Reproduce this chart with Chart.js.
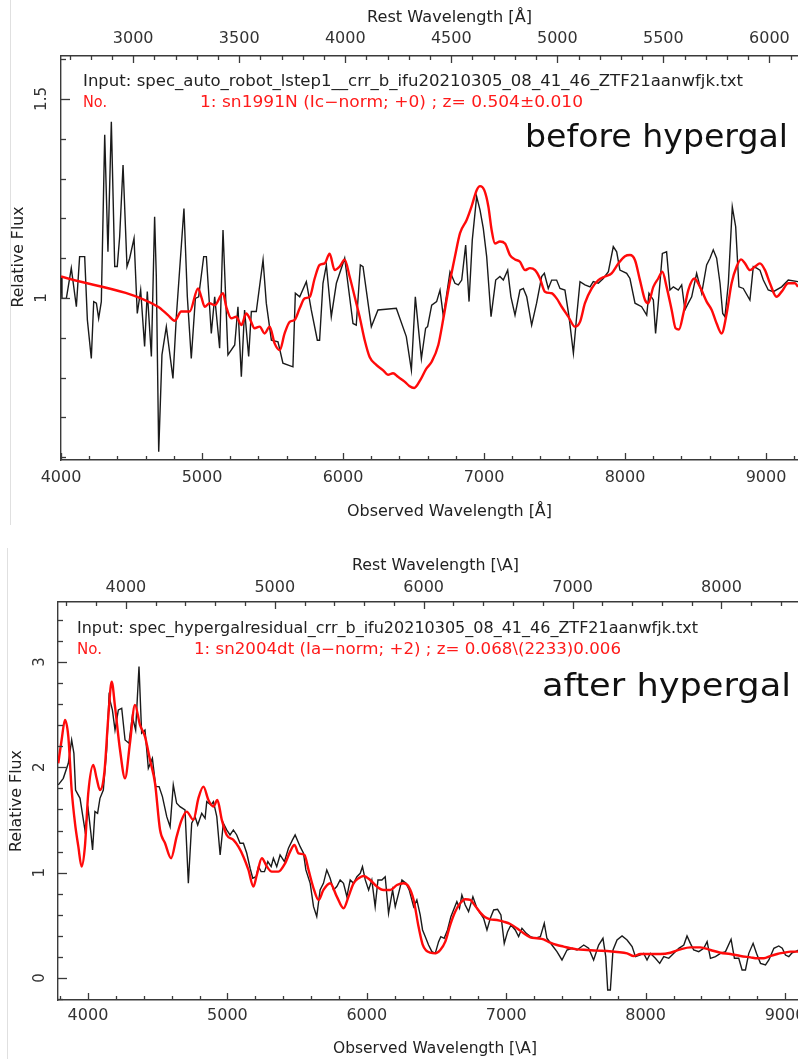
<!DOCTYPE html>
<html><head><meta charset="utf-8">
<script src="https://cdn.jsdelivr.net/npm/chart.js@4/dist/chart.umd.min.js"></script>
<style>
html,body{margin:0;padding:0;background:#fff;overflow:hidden;}
#c1{position:absolute;left:0;top:0;}
#c2{position:absolute;left:0;top:530px;}
</style></head><body>
<canvas id="c1" width="798" height="530"></canvas>
<canvas id="c2" width="798" height="529"></canvas>
<script>
// ---------------- DATA ----------------
// Top panel: before hypergal (observed spectrum, black)
const TOP_OBS_WAVE = [4000,4007,4038,4073,4109,4132,4168,4187,4215,4232,4251,4267,4286,4310,4333,4357,4381,4399,4416,4440,4468,4487,4518,4541,4565,4593,4612,4641,4664,4676,4693,4716,4747,4794,4818,4872,4896,4924,4953,4976,5012,5031,5066,5090,5125,5149,5184,5232,5255,5279,5302,5331,5350,5385,5433,5456,5492,5539,5574,5645,5662,5693,5740,5775,5818,5834,5858,5882,5917,5953,6012,6071,6094,6123,6142,6201,6248,6378,6449,6485,6513,6556,6586,6600,6629,6664,6688,6712,6759,6794,6818,6842,6870,6894,6917,6948,6972,6995,7019,7050,7083,7113,7137,7168,7191,7220,7255,7279,7303,7338,7373,7409,7428,7456,7480,7515,7539,7574,7603,7634,7657,7681,7716,7752,7775,7811,7846,7882,7917,7941,7964,8012,8035,8071,8118,8154,8170,8201,8217,8236,8265,8295,8319,8343,8378,8402,8425,8449,8473,8508,8544,8579,8603,8626,8650,8674,8693,8709,8733,8761,8785,8808,8839,8886,8910,8934,8957,8981,9016,9052,9111,9158,9227];
const TOP_OBS_FLUX = [1.054,0.999,0.999,1.075,0.978,1.104,1.104,0.945,0.848,0.991,0.987,0.949,0.991,1.410,1.116,1.443,1.079,1.079,1.154,1.334,1.079,1.100,1.150,0.961,1.020,0.878,1.016,0.853,1.204,1.054,0.614,0.857,0.928,0.798,0.953,1.225,1.003,0.848,0.999,1.003,1.104,1.104,0.911,1.003,0.874,1.171,0.857,0.882,0.978,0.802,0.970,0.853,0.966,0.966,1.096,0.987,0.894,0.890,0.836,0.827,1.012,1.003,1.041,0.970,0.894,0.894,1.037,1.083,0.953,1.037,1.100,0.936,0.932,1.083,1.079,0.928,0.970,0.974,0.903,0.819,1.003,0.848,0.924,0.928,0.982,0.991,1.020,0.953,1.066,1.037,1.033,1.045,1.133,0.991,1.146,1.255,1.221,1.175,1.104,0.953,1.045,1.054,1.045,1.070,1.003,0.957,1.020,1.024,1.003,0.932,0.987,1.054,1.062,1.024,1.045,1.045,1.024,1.020,0.953,0.861,0.953,1.041,1.033,1.028,1.041,1.037,1.049,1.066,1.129,1.116,1.070,1.062,1.049,0.987,0.978,0.957,1.012,0.995,0.911,0.987,1.112,1.116,1.020,1.028,1.020,1.033,0.970,0.987,1.003,1.062,1.012,1.083,1.100,1.121,1.100,1.037,0.961,0.953,1.037,1.229,1.179,1.028,1.024,0.995,1.079,1.075,1.070,1.045,1.020,1.016,1.028,1.045,1.041];
// Top panel: template sn1991N (red)
const TOP_TPL_WAVE = [4000,4688,4759,4806,4853,4912,4972,4995,5019,5054,5090,5149,5172,5208,5243,5279,5314,5338,5373,5409,5444,5480,5515,5551,5586,5622,5657,5693,5728,5764,5799,5834,5870,5905,5941,5976,6012,6047,6083,6118,6154,6189,6236,6283,6319,6355,6390,6437,6470,6505,6550,6590,6629,6676,6712,6747,6794,6830,6877,6912,6948,6972,7002,7031,7054,7078,7113,7149,7184,7220,7255,7291,7326,7362,7397,7432,7480,7515,7551,7598,7645,7681,7716,7764,7811,7858,7905,7953,8000,8035,8071,8106,8142,8165,8201,8236,8265,8295,8331,8359,8383,8414,8449,8492,8532,8579,8615,8650,8685,8721,8756,8792,8823,8851,8886,8922,8957,8993,9028,9075,9111,9158,9206,9227];
const TOP_TPL_FLUX = [1.054,0.978,0.957,0.943,0.966,0.966,1.024,1.003,0.978,0.987,0.982,1.012,0.978,0.949,0.953,0.932,0.961,0.949,0.924,0.928,0.911,0.928,0.886,0.869,0.911,0.940,0.945,0.974,0.999,1.003,1.049,1.083,1.087,1.111,1.070,1.079,1.096,1.054,1.003,0.953,0.894,0.852,0.832,0.819,0.807,0.811,0.802,0.790,0.779,0.774,0.795,0.822,0.840,0.882,0.949,1.020,1.104,1.163,1.196,1.230,1.271,1.281,1.271,1.230,1.171,1.137,1.142,1.137,1.108,1.097,1.091,1.070,1.075,1.070,1.049,1.016,1.012,0.999,0.978,0.953,0.928,0.940,0.987,1.024,1.045,1.054,1.062,1.087,1.105,1.108,1.095,1.045,0.995,0.987,1.028,1.049,1.066,1.028,0.970,0.924,0.921,0.961,1.020,1.049,1.028,0.991,0.970,0.936,0.911,0.961,1.037,1.079,1.097,1.087,1.070,1.079,1.087,1.070,1.037,1.003,1.016,1.037,1.037,1.028];

// Bottom panel: after hypergal (observed spectrum, black)
const BOT_OBS_WAVE = [3787,3823,3859,3883,3899,3911,3943,3978,4002,4021,4033,4050,4069,4086,4110,4134,4151,4175,4194,4218,4242,4266,4294,4318,4342,4366,4385,4409,4433,4462,4486,4510,4534,4565,4589,4612,4636,4660,4696,4720,4744,4768,4787,4816,4840,4852,4883,4900,4924,4948,4971,4995,5019,5043,5067,5091,5115,5139,5163,5182,5206,5223,5242,5266,5290,5314,5330,5354,5378,5409,5438,5467,5486,5522,5546,5563,5594,5618,5641,5665,5689,5713,5737,5761,5785,5809,5833,5857,5881,5905,5929,5953,5969,5989,6013,6036,6060,6080,6108,6132,6156,6185,6204,6228,6252,6281,6304,6336,6359,6383,6400,6419,6443,6467,6491,6515,6531,6555,6579,6603,6622,6646,6665,6682,6706,6730,6761,6790,6814,6838,6862,6886,6910,6938,6962,6986,7010,7034,7065,7089,7113,7144,7173,7209,7245,7273,7292,7328,7364,7400,7436,7472,7508,7556,7591,7627,7663,7694,7714,7728,7747,7766,7795,7831,7867,7903,7927,7958,7986,8010,8034,8070,8101,8130,8166,8202,8238,8274,8297,8321,8345,8381,8417,8441,8465,8501,8537,8573,8613,8637,8668,8692,8716,8740,8771,8795,8824,8860,8884,8920,8955,8980,9003,9027,9051,9075,9097];
const BOT_OBS_FLUX = [1.833,1.896,2.039,2.260,2.134,1.785,1.706,1.406,1.596,1.374,1.216,1.580,1.564,1.706,1.785,2.165,2.672,2.545,2.355,2.545,2.561,2.260,2.229,2.482,2.355,2.957,2.324,2.355,1.991,2.086,1.817,1.817,1.722,1.532,1.437,1.833,1.659,1.627,1.596,0.899,1.469,1.532,1.453,1.564,1.516,1.675,1.643,1.675,1.532,1.168,1.469,1.406,1.358,1.406,1.358,1.279,1.279,1.184,1.042,0.947,0.962,1.057,1.010,1.010,1.105,1.057,1.137,1.057,1.168,1.105,1.232,1.311,1.358,1.247,1.184,1.026,0.899,0.677,0.583,0.836,0.899,1.026,0.947,0.836,0.868,0.931,0.899,0.773,0.931,0.899,0.962,0.994,1.057,0.931,0.836,0.931,0.677,0.931,0.931,0.962,0.614,0.836,0.677,0.804,0.931,0.899,0.836,0.677,0.741,0.600,0.456,0.393,0.313,0.250,0.234,0.345,0.393,0.377,0.456,0.582,0.646,0.725,0.662,0.788,0.693,0.630,0.772,0.662,0.614,0.567,0.456,0.567,0.646,0.652,0.598,0.329,0.440,0.503,0.456,0.393,0.472,0.424,0.393,0.377,0.393,0.519,0.377,0.313,0.250,0.171,0.266,0.282,0.266,0.313,0.282,0.171,0.313,0.377,0.203,-0.114,-0.114,0.266,0.361,0.399,0.361,0.298,0.203,0.218,0.234,0.171,0.234,0.187,0.139,0.203,0.187,0.234,0.282,0.313,0.399,0.329,0.266,0.250,0.282,0.345,0.187,0.203,0.234,0.250,0.367,0.187,0.187,0.076,0.076,0.234,0.329,0.234,0.139,0.124,0.171,0.282,0.304,0.282,0.218,0.203,0.240,0.250,0.266];
// Bottom panel: template sn2004dt (red)
const BOT_TPL_WAVE = [3787,3811,3835,3859,3883,3907,3931,3954,3978,4002,4038,4062,4086,4117,4146,4170,4194,4230,4266,4301,4337,4373,4409,4445,4481,4517,4553,4596,4636,4672,4708,4756,4792,4828,4864,4900,4928,4960,4995,5043,5079,5115,5151,5187,5211,5247,5283,5318,5366,5414,5450,5481,5510,5553,5582,5618,5654,5689,5737,5785,5833,5869,5905,5941,5976,6024,6072,6120,6168,6216,6264,6300,6336,6371,6400,6425,6455,6491,6527,6563,6598,6634,6670,6706,6742,6778,6814,6850,6886,6933,6981,7029,7077,7125,7173,7221,7268,7316,7364,7412,7460,7508,7580,7651,7723,7795,7867,7915,7962,8034,8106,8178,8250,8321,8393,8465,8537,8608,8680,8752,8800,8848,8896,8944,8991,9039,9097];
const BOT_TPL_FLUX = [2.039,2.260,2.450,2.292,1.785,1.469,1.247,1.058,1.247,1.754,2.023,1.896,1.785,1.944,2.482,2.814,2.577,2.165,1.896,2.229,2.593,2.403,2.292,2.070,1.849,1.406,1.279,1.137,1.342,1.501,1.580,1.501,1.706,1.817,1.690,1.627,1.690,1.501,1.358,1.311,1.247,1.152,1.026,0.868,0.978,1.137,1.058,1.010,1.010,1.089,1.200,1.263,1.184,1.168,1.026,0.852,0.741,0.836,0.899,0.773,0.662,0.773,0.899,0.947,0.969,0.931,0.868,0.836,0.836,0.883,0.899,0.868,0.741,0.488,0.320,0.262,0.241,0.234,0.266,0.345,0.503,0.630,0.709,0.747,0.741,0.684,0.621,0.576,0.557,0.551,0.535,0.513,0.472,0.424,0.386,0.377,0.367,0.335,0.313,0.298,0.282,0.272,0.266,0.260,0.256,0.247,0.234,0.209,0.228,0.228,0.228,0.240,0.272,0.291,0.291,0.266,0.240,0.228,0.209,0.196,0.187,0.187,0.209,0.228,0.240,0.250,0.250];

// Tick labels
const TOP_X_TICKS = [4000,5000,6000,7000,8000,9000];
const TOP_REST_TICKS = [3000,3500,4000,4500,5000,5500,6000];
const TOP_Y_TICKS = [1,1.5];
const BOT_X_TICKS = [4000,5000,6000,7000,8000,9000];
const BOT_REST_TICKS = [4000,5000,6000,7000,8000];
const BOT_Y_TICKS = [0,1,2,3];
const TOP_Z = 0.504;
const BOT_Z = 0.068;

// Texts
const TOP_INPUT = 'Input: spec_auto_robot_lstep1__crr_b_ifu20210305_08_41_46_ZTF21aanwfjk.txt';
const TOP_MATCH = '1: sn1991N (Ic\u2212norm; +0) ; z= 0.504\u00b10.010';
const BOT_INPUT = 'Input: spec_hypergalresidual_crr_b_ifu20210305_08_41_46_ZTF21aanwfjk.txt';
const BOT_MATCH = '1: sn2004dt (Ia\u2212norm; +2) ; z= 0.068\\(2233)0.006';

// ---------------- DRAWING ----------------
const FONT = '"DejaVu Sans", sans-serif';
function drawText(ctx, t) {
  ctx.save();
  ctx.font = (t.size || 15) + 'px ' + FONT;
  ctx.fillStyle = t.color || '#222';
  ctx.translate(t.x, t.y);
  if (t.rot) ctx.rotate(-Math.PI / 2);
  if (t.w) { const m = ctx.measureText(t.s).width; ctx.scale(t.w / m, 1); }
  ctx.textAlign = t.rot ? 'center' : 'left';
  ctx.textBaseline = t.rot ? 'middle' : 'alphabetic';
  ctx.fillText(t.s, 0, 0);
  ctx.restore();
}

const decor = {
  id: 'decor',
  afterDraw(chart, _args, o) {
    const ctx = chart.ctx, A = chart.chartArea;
    const sx = chart.scales.x, sx2 = chart.scales.x2, sy = chart.scales.y;
    ctx.save();
    ctx.strokeStyle = '#e0e0e0'; ctx.lineWidth = 1;
    ctx.beginPath(); ctx.moveTo(o.frameX, o.frameY0); ctx.lineTo(o.frameX, o.frameY1); ctx.stroke();
    ctx.strokeStyle = '#3a3a3a'; ctx.lineWidth = 1.3;
    const seg = (x0, y0, x1, y1) => { ctx.beginPath(); ctx.moveTo(x0, y0); ctx.lineTo(x1, y1); ctx.stroke(); };
    const isMajor = (v, arr) => arr.some(t => Math.abs(t - v) < 1e-6);
    for (let i = Math.ceil(sx.min / o.obsMinor); i * o.obsMinor <= sx.max; i++) {
      const v = i * o.obsMinor, px = Math.round(sx.getPixelForValue(v)) + 0.5;
      seg(px, A.bottom, px, A.bottom - (isMajor(v, o.xTicks) ? 7 : 4));
    }
    for (let i = Math.ceil(sx2.min / o.restMinor); i * o.restMinor <= sx2.max; i++) {
      const v = i * o.restMinor, px = Math.round(sx2.getPixelForValue(v)) + 0.5;
      seg(px, A.top, px, A.top + (isMajor(v, o.restTicks) ? 7 : 4));
    }
    for (let i = Math.ceil(sy.min / o.yMinor - 1e-9); i * o.yMinor <= sy.max + 1e-9; i++) {
      const v = i * o.yMinor, py = Math.round(sy.getPixelForValue(v)) + 0.5;
      seg(A.left, py, A.left + (isMajor(v, o.yTicks) ? 9 : 5), py);
    }
    o.yTicks.forEach(t => drawText(ctx, {s: String(t), x: o.yLabelX, y: sy.getPixelForValue(t), size: 15, color: '#333', rot: true}));
    o.texts.forEach(t => drawText(ctx, t));
    ctx.restore();
  }
};

function makePanel(id, p) {
  const tickFont = {family: FONT, size: 16, lineHeight: 1.2};
  const pts = (w, f) => w.map((x, i) => ({x: x, y: f[i]}));
  return new Chart(document.getElementById(id), {
    type: 'line',
    data: {
      datasets: [
        {data: pts(p.tplW, p.tplF), borderColor: '#ff0a0a', borderWidth: 2.4, pointRadius: 0, cubicInterpolationMode: 'monotone', fill: false},
        {data: pts(p.obsW, p.obsF), borderColor: '#1a1a1a', borderWidth: 1.4, pointRadius: 0, tension: 0, fill: false}
      ]
    },
    options: {
      responsive: false, animation: false, devicePixelRatio: 1,
      layout: {padding: 0},
      plugins: {legend: {display: false}, tooltip: {enabled: false}, decor: p.decor},
      events: [],
      scales: {
        x: {
          type: 'linear', position: 'bottom', min: p.xMin, max: p.xMax,
          afterBuildTicks: s => { s.ticks = p.xTicks.map(v => ({value: v})); },
          afterFit: s => { s.height = p.botH; s.paddingLeft = 0; s.paddingRight = 0; },
          grid: {display: false, drawTicks: false},
          border: {display: true, color: '#3a3a3a', width: 1.4},
          ticks: {padding: p.botPad, font: tickFont, color: '#333', maxRotation: 0, minRotation: 0, autoSkip: false, callback: v => String(v)}
        },
        x2: {
          type: 'linear', position: 'top', min: p.xMin / (1 + p.z), max: p.xMax / (1 + p.z),
          afterBuildTicks: s => { s.ticks = p.restTicks.map(v => ({value: v})); },
          afterFit: s => { s.height = p.topH; s.paddingLeft = 0; s.paddingRight = 0; },
          grid: {display: false, drawTicks: false},
          border: {display: true, color: '#3a3a3a', width: 1.4},
          ticks: {padding: p.topPad, font: tickFont, color: '#333', maxRotation: 0, minRotation: 0, autoSkip: false, callback: v => String(v)}
        },
        y: {
          type: 'linear', position: 'left', min: p.yMin, max: p.yMax,
          afterFit: s => { s.width = p.yW; s.paddingTop = 0; s.paddingBottom = 0; },
          grid: {display: false, drawTicks: false},
          border: {display: true, color: '#3a3a3a', width: 1.4},
          ticks: {display: false}
        }
      }
    },
    plugins: [decor]
  });
}

makePanel('c1', {
  obsW: TOP_OBS_WAVE, obsF: TOP_OBS_FLUX, tplW: TOP_TPL_WAVE, tplF: TOP_TPL_FLUX,
  xMin: 4000, xMax: 9227, yMin: 0.593, yMax: 1.608, z: TOP_Z,
  xTicks: TOP_X_TICKS, restTicks: TOP_REST_TICKS,
  yW: 61, topH: 56, botH: 70, topPad: 8, botPad: 8,
  decor: {
    obsMinor: 200, restMinor: 100, yMinor: 0.1,
    xTicks: TOP_X_TICKS, restTicks: TOP_REST_TICKS, yTicks: TOP_Y_TICKS, yLabelX: 42,
    frameX: 10.5, frameY0: 0, frameY1: 525,
    texts: [
      {s: 'Rest Wavelength [\u00c5]', x: 367, y: 22, w: 165},
      {s: 'Observed Wavelength [\u00c5]', x: 347, y: 516, w: 205},
      {s: 'Relative Flux', x: 19, y: 257, w: 101, rot: true},
      {s: TOP_INPUT, x: 83, y: 86, w: 660},
      {s: 'No.', x: 83, y: 107, w: 24, color: '#ff1a1a'},
      {s: TOP_MATCH, x: 200, y: 107, w: 383, color: '#ff1a1a'},
      {s: 'before hypergal', x: 525, y: 147, w: 263, size: 32, color: '#111'}
    ]
  }
});

makePanel('c2', {
  obsW: BOT_OBS_WAVE, obsF: BOT_OBS_FLUX, tplW: BOT_TPL_WAVE, tplF: BOT_TPL_FLUX,
  xMin: 3785, xMax: 9093, yMin: -0.209, yMax: 3.570, z: BOT_Z,
  xTicks: BOT_X_TICKS, restTicks: BOT_REST_TICKS,
  yW: 58, topH: 72, botH: 59, topPad: 5, botPad: 6,
  decor: {
    obsMinor: 200, restMinor: 200, yMinor: 0.2,
    xTicks: BOT_X_TICKS, restTicks: BOT_REST_TICKS, yTicks: BOT_Y_TICKS, yLabelX: 40,
    frameX: 7.5, frameY0: 18, frameY1: 529,
    texts: [
      {s: 'Rest Wavelength [\\A]', x: 352, y: 40, w: 167},
      {s: 'Observed Wavelength [\\A]', x: 333, y: 523, w: 204},
      {s: 'Relative Flux', x: 17, y: 271, w: 102, rot: true},
      {s: BOT_INPUT, x: 77, y: 103, w: 621},
      {s: 'No.', x: 77, y: 124, w: 25, color: '#ff1a1a'},
      {s: BOT_MATCH, x: 194, y: 124, w: 427, color: '#ff1a1a'},
      {s: 'after hypergal', x: 542, y: 166, w: 249, size: 32, color: '#111'}
    ]
  }
});
</script>
</body></html>
